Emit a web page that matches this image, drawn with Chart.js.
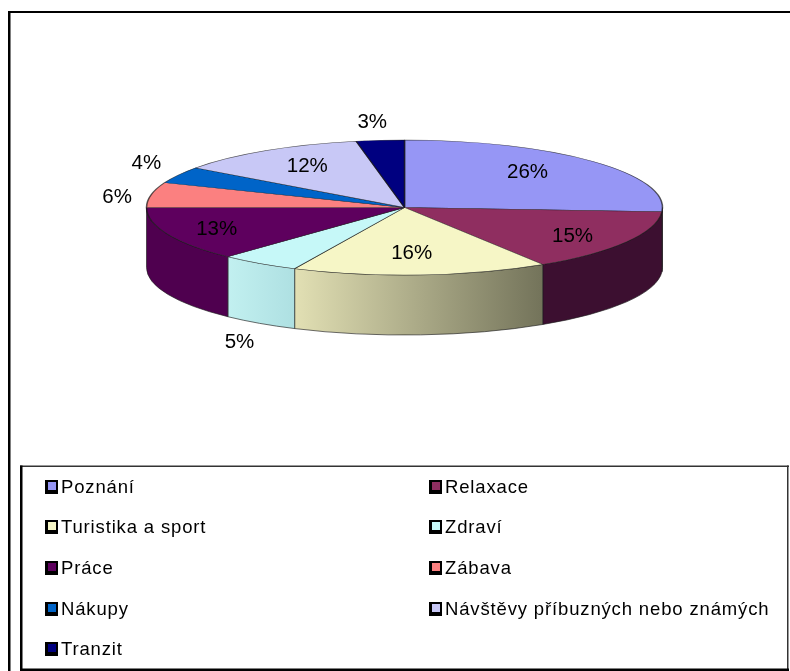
<!DOCTYPE html>
<html><head><meta charset="utf-8">
<style>html,body{margin:0;padding:0;background:#fff}canvas{display:block}</style>
<script src="https://cdn.jsdelivr.net/npm/chart.js@4"></script>
</head><body><canvas id="c" width="790" height="671"></canvas>
<script>
const categories = ["Poznání","Relaxace","Turistika a sport","Zdraví","Práce","Zábava","Nákupy","Návštěvy příbuzných nebo známých","Tranzit"];
const values = [26,15,16,5,13,6,4,12,3];
const sliceColors = ["#9696f5","#8f2e60","#f6f6c6","#c6f8f8","#5e005e","#fb8080","#0064c8","#c8c8f6","#000080"];
const wallLeft = ["#3c0f30","#3c0f30","#e2e0b4","#c2f0f0","#4f004f","#7a3a3a","#00305f","#5f5f8a","#000040"];
const wallRight = ["#3c0f30","#3c0f30","#73735a","#aee0e2","#4f004f","#7a3a3a","#00305f","#5f5f8a","#000040"];
const labelDx = [-65,-54,-9,-20,49,-34,-32,41,-8];
const labelDy = [11,-6,-22,79,-5,2,-12,16,-18];

const PIE = {cx:404.5, cy:207.5, rx:258, ry:67.5, depth:60};
const FONT = '"Liberation Sans", Arial, sans-serif';

function screenGeom(arc){
  return arc.getProps(['startAngle','endAngle','x','y','outerRadius'], true);
}
const pie3d = {
  id:'pie3d',
  beforeDraw(chart){
    const c = chart.ctx;
    c.save();
    c.fillStyle='#fff'; c.fillRect(0,0,790,671);
    c.fillStyle='#000';
    c.fillRect(8,11,782,2);
    c.fillRect(8,11,2.5,660);
    c.fillStyle='#333';
    c.fillRect(20,465.5,769,1.5);
    c.fillRect(787,465.5,1.5,204);
    c.fillStyle='#000';
    c.fillRect(20,465.5,2.5,205.5);
    c.fillRect(20,668.5,769,2.5);
    c.restore();
  },
  beforeDatasetsDraw(chart){
    const c = chart.ctx, arcs = chart.getDatasetMeta(0).data;
    // extruded side wall of each slice, taken from the arc's own angles
    arcs.forEach((arc,i)=>{
      const g = screenGeom(arc);
      const a = Math.max(g.startAngle,0), b = Math.min(g.endAngle,Math.PI);
      let segs = [];
      if (b>a) segs.push([a,b]);
      const a2 = g.startAngle-2*Math.PI, b2 = g.endAngle-2*Math.PI;
      if (Math.min(b2,Math.PI)>Math.max(a2,0)) segs.push([Math.max(a2,0),Math.min(b2,Math.PI)]);
      segs.forEach(([s,e])=>{
        const xs = PIE.cx+PIE.rx*Math.cos(s), xe = PIE.cx+PIE.rx*Math.cos(e);
        const grad = c.createLinearGradient(xe,0,xs,0);
        grad.addColorStop(0,wallLeft[i]); grad.addColorStop(1,wallRight[i]);
        c.save();
        c.beginPath();
        c.ellipse(PIE.cx,PIE.cy,PIE.rx,PIE.ry,0,s,e,false);
        c.ellipse(PIE.cx,PIE.cy+PIE.depth,PIE.rx,PIE.ry,0,e,s,true);
        c.closePath();
        c.fillStyle=grad; c.fill();
        c.lineWidth=1; c.strokeStyle='rgba(30,30,30,0.65)'; c.stroke();
        c.restore();
      });
    });
    // flatten the library's circle into the tilted top face
    c.save();
    const g = screenGeom(arcs[0]);
    c.translate(PIE.cx,PIE.cy);
    c.scale(PIE.rx/g.outerRadius,PIE.ry/g.outerRadius);
    c.translate(-g.x,-g.y);
  },
  afterDatasetsDraw(chart){
    const c = chart.ctx;
    c.restore();
    const arcs = chart.getDatasetMeta(0).data;
    c.save();
    c.font='20.5px '+FONT; c.fillStyle='#000'; c.textAlign='center'; c.textBaseline='middle';
    const total = values.reduce((s,v)=>s+v,0);
    arcs.forEach((arc,i)=>{
      const g = screenGeom(arc), m=(g.startAngle+g.endAngle)/2;
      const x = PIE.cx+PIE.rx*Math.cos(m)+labelDx[i], y = PIE.cy+PIE.ry*Math.sin(m)+labelDy[i];
      c.fillText(Math.round(values[i]/total*100)+'%',x,y);
    });
    // legend
    c.font='18.5px '+FONT; c.textAlign='left'; c.textBaseline='middle';
    if ('letterSpacing' in c) c.letterSpacing='0.85px';
    const colX=[45,429], rowY=[487,527,568,609,649];
    categories.forEach((t,i)=>{
      const col=i%2,row=Math.floor(i/2),x=colX[col],y=rowY[row];
      c.fillStyle='#000'; c.fillRect(x,y-7,13,14);
      c.fillStyle=sliceColors[i]; c.fillRect(x+3,y-5,8,8);
      c.fillStyle='#000'; c.fillText(t,x+16,y+1);
    });
    c.restore();
  }
};

new Chart(document.getElementById('c'),{
  type:'pie',
  data:{labels:categories,datasets:[{data:values,backgroundColor:sliceColors,borderColor:'rgba(20,20,20,0.7)',borderWidth:1.5,borderAlign:'center',hoverOffset:0}]},
  options:{
    responsive:false,animation:false,devicePixelRatio:1,
    layout:{padding:{left:146.5,right:127.5,top:20,bottom:135}},
    plugins:{legend:{display:false},tooltip:{enabled:false},title:{display:false}}
  },
  plugins:[pie3d]
});
</script></body></html>
